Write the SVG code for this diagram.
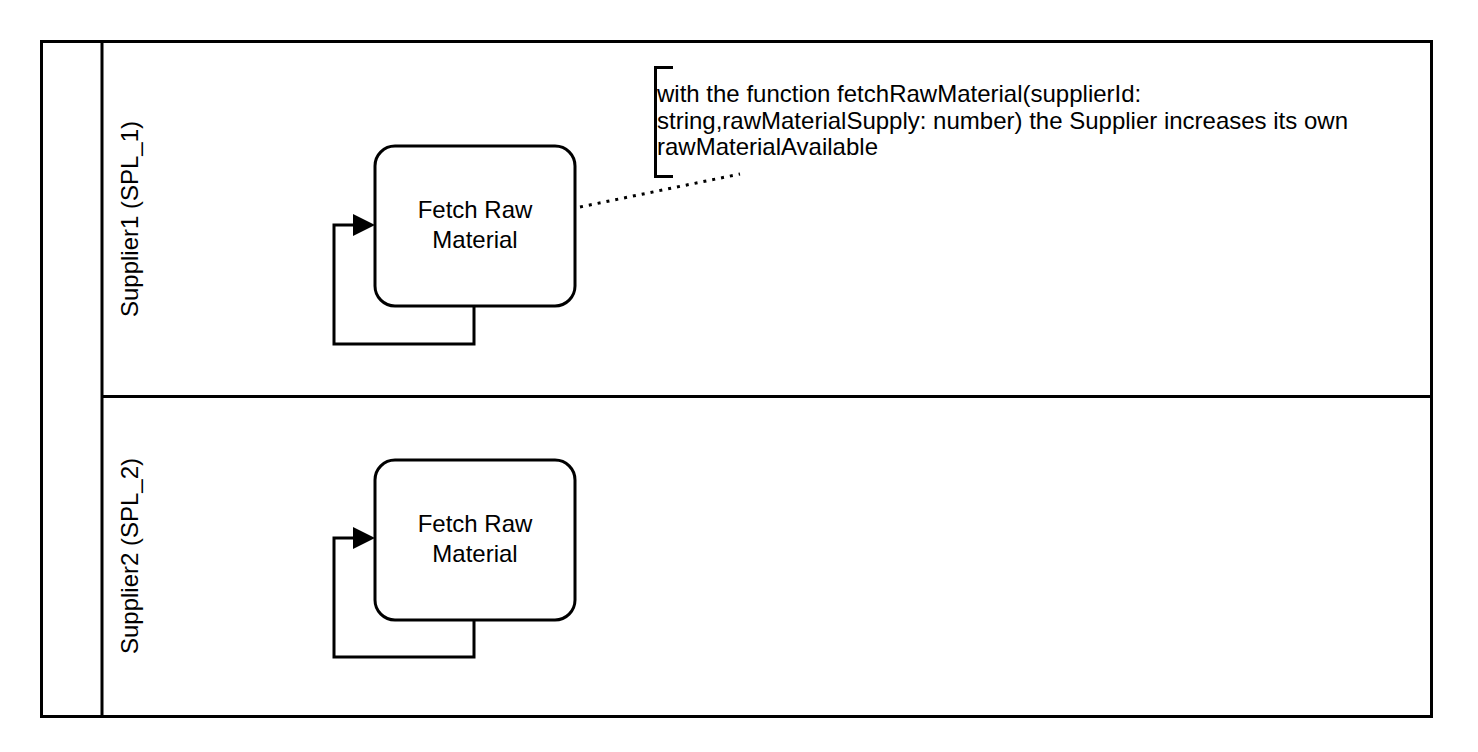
<svg xmlns="http://www.w3.org/2000/svg" width="1478" height="752" viewBox="0 0 1478 752">
<style>
.ln{fill:none;stroke:#000;stroke-width:3}
.t{font-family:"Liberation Sans",Arial,sans-serif;font-size:24px;fill:#000}
.c{text-anchor:middle}
</style>
<rect width="1478" height="752" fill="#fff"/>
<g id="pool">
<rect class="ln" x="41.5" y="41.5" width="1390" height="675"/>
<line class="ln" x1="102" y1="41.5" x2="102" y2="716.5"/>
</g>
<g id="lane1">
<text class="t c" transform="translate(138,219) rotate(-90)">Supplier1 (SPL_1)</text>
</g>
<g id="lane2">
<line class="ln" x1="102" y1="396.5" x2="1431.5" y2="396.5"/>
<text class="t c" transform="translate(138,556) rotate(-90)">Supplier2 (SPL_2)</text>
</g>
<g id="node1">
<rect class="ln" x="375" y="146" width="200" height="160" rx="20"/>
<text class="t c" x="475" y="218">Fetch Raw</text>
<text class="t c" x="475" y="248">Material</text>
</g>
<g id="node2">
<rect class="ln" x="375" y="460" width="200" height="160" rx="20"/>
<text class="t c" x="475" y="532">Fetch Raw</text>
<text class="t c" x="475" y="562">Material</text>
</g>
<g id="annotation">
<path class="ln" d="M673,67.5 H655.5 V176.5 H673"/>
<text class="t" x="657" y="102">with the function fetchRawMaterial(supplierId:</text>
<text class="t" x="657" y="128.5">string,rawMaterialSupply: number) the Supplier increases its own</text>
<text class="t" x="657" y="155">rawMaterialAvailable</text>
</g>
<g id="connectors">
<path class="ln" d="M474,306 V344 H334 V225 H355"/>
<polygon points="375,225 353,214 353,236" fill="#000"/>
<path class="ln" d="M474,620 V657 H334 V538 H355"/>
<polygon points="375,538 353,527 353,549" fill="#000"/>
<line x1="580" y1="207" x2="740" y2="174" stroke="#000" stroke-width="3" stroke-dasharray="3 6"/>
</g>
</svg>
